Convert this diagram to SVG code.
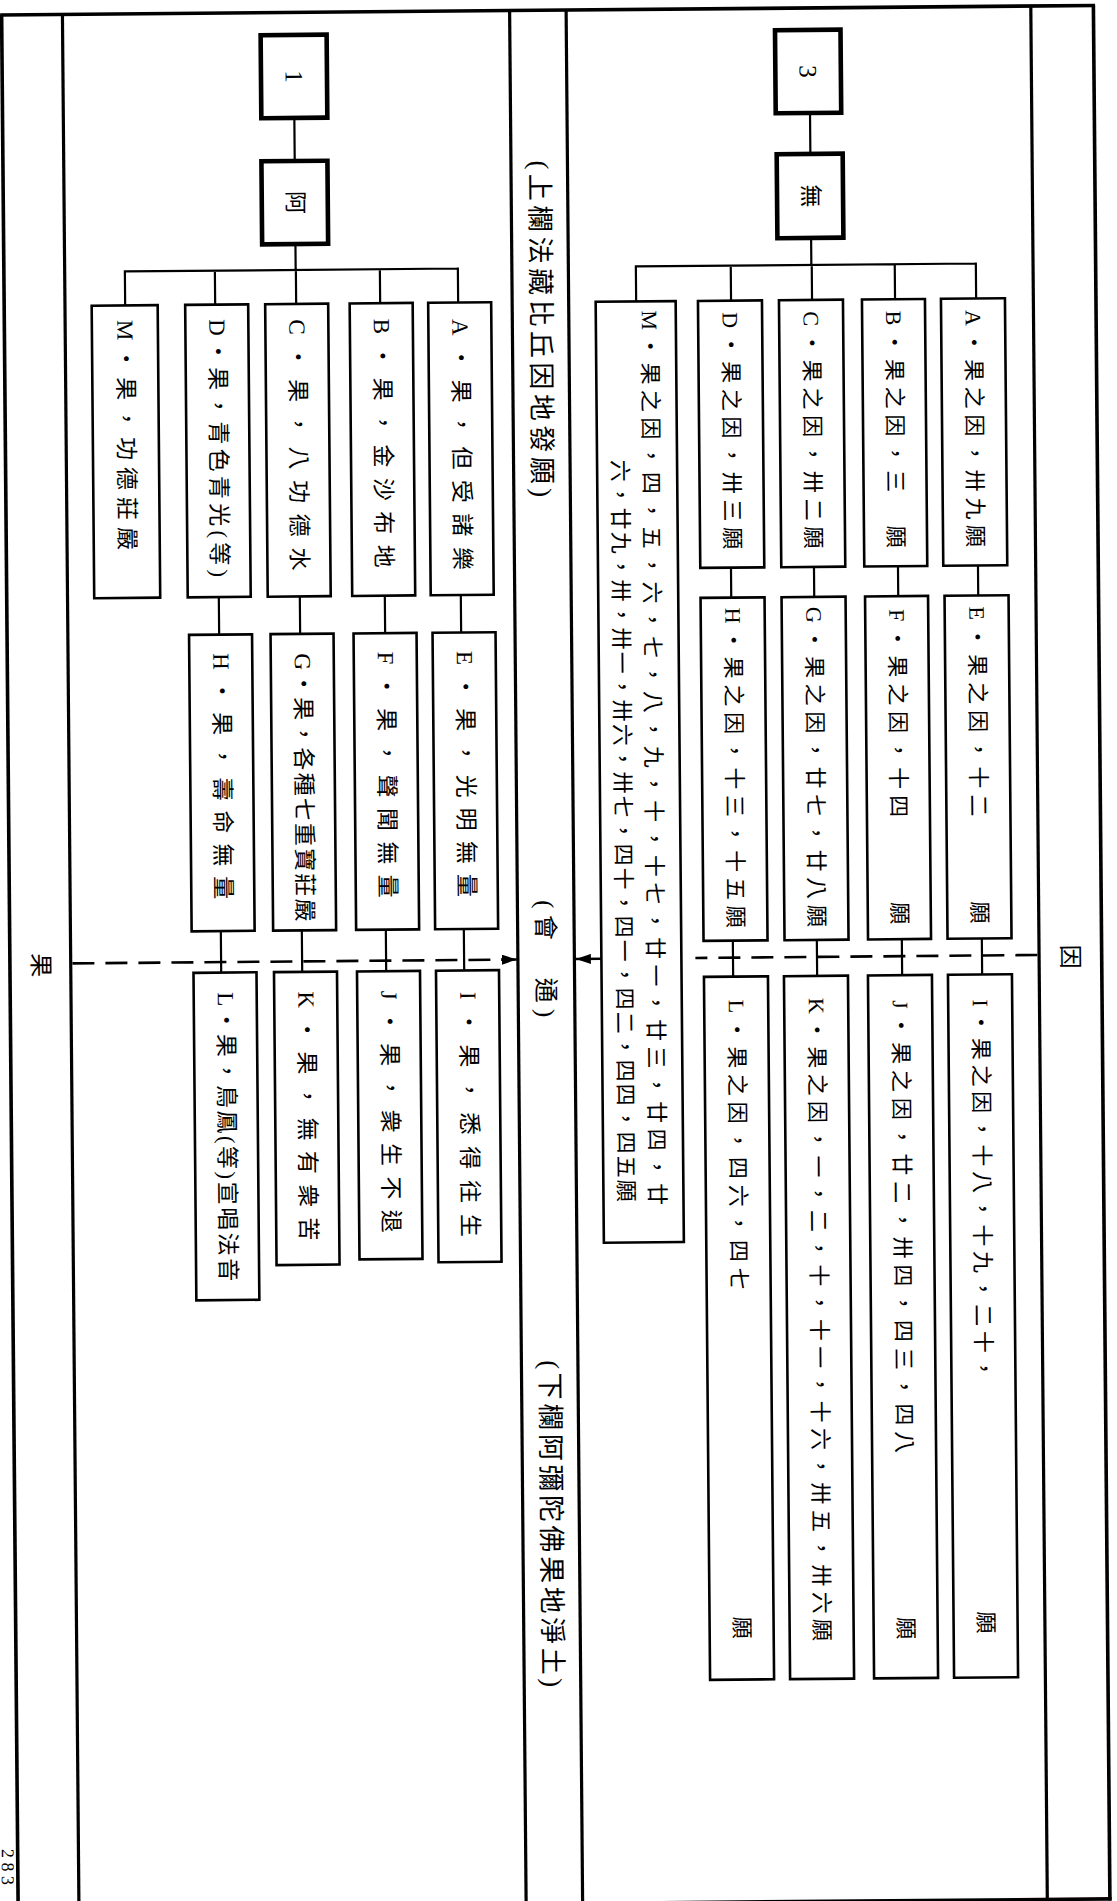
<svg xmlns="http://www.w3.org/2000/svg" width="1117" height="1901" viewBox="0 0 1117 1901">
<defs>
<style>
.fr{stroke:#000;stroke-width:3.6;fill:none}
.cl{stroke:#000;stroke-width:3.2;fill:none}
.bx{fill:#fff;stroke:#000;stroke-width:2.6}
.bb{fill:#fff;stroke:#000;stroke-width:4.6}
.cn{stroke:#000;stroke-width:2.2;fill:none}
.ds{stroke:#000;stroke-width:2.6;fill:none;stroke-dasharray:22 11}
.ar{stroke:#000;stroke-width:2.6;fill:none}
text{font-family:"Liberation Serif","Noto Sans CJK TC",serif;fill:#000}
.t{font-size:23px}
.r{font-size:22px}
.h{font-size:27px}
.lb{font-size:24px}
</style>
<marker id="ah" viewBox="0 0 15 10" refX="15" refY="5" markerWidth="15" markerHeight="10" markerUnits="userSpaceOnUse" orient="auto"><path d="M0,0 L15,5 L0,10 Z" fill="#000"/></marker>
</defs>
<rect x="0" y="0" width="1117" height="1901" fill="#fff"/>
<g transform="rotate(-0.5)">
<g id="frame">
<path class="fr" d="M0,15 H1095"/>
<path class="fr" d="M0,1908.5 H1095"/>
<path class="fr" d="M1.5,15 V1910"/>
<path class="fr" d="M1093.3,15 V1910"/>
<path class="cl" d="M62.3,15 V1910"/>
<path class="cl" d="M509.5,15 V1910"/>
<path class="cl" d="M566,15 V1910"/>
<path class="cl" d="M1030.7,15 V1910"/>
</g>
<g id="connectors">
<path class="cn" d="M293.3,120.5 V163.6 M293.3,246.6 V272.5 M122.5,272.5 H455.5 M122.5,271.4 V306.5 M212.5,272.5 V306.5 M293.5,272.5 V306.5 M377.5,272.5 V306.5 M455.5,271.4 V306.5"/>
<path class="cn" d="M213.6,599 V636.5 M294.6,599 V636.5 M379.6,599 V636.5 M455.6,599 V636.5"/>
<path class="cn" d="M212.7,933 V974.5 M293.7,933 V974.5 M377.7,933 V974.5 M455.7,933 V974.5"/>
<path class="cn" d="M809,120 V161 M809,245 V272 M633.5,272 H973.5 M633.5,270.9 V307 M728.4,272 V307 M809.4,272 V307 M892.4,272 V307 M973.5,270.9 V307"/>
<path class="cn" d="M726,574 V604 M809,574 V604 M893,574 V604 M973,574 V604"/>
<path class="cn" d="M724.6,947 V983 M808.6,947 V983 M893.6,947 V983 M973.6,947 V983"/>
<path class="ds" d="M64,964 H494"/>
<path class="ar" d="M493,964 H508.5" marker-end="url(#ah)"/>
<path class="ds" d="M1029,964 H687"/>
<path class="ar" d="M593,964 H567.5" marker-end="url(#ah)"/>
</g>
<g id="labels">
<text class="lb" transform="translate(32,965.4) rotate(90)" text-anchor="middle" dominant-baseline="central">果</text>
<text class="lb" transform="translate(1061.5,966) rotate(90)" text-anchor="middle" dominant-baseline="central">因</text>
<text class="h" transform="translate(537.5,165) rotate(90)" dominant-baseline="central" textLength="337" lengthAdjust="spacing">(上欄法藏比丘因地發願)</text>
<text style="font-size:25px" transform="translate(537,905) rotate(90)" dominant-baseline="central" textLength="117" lengthAdjust="spacing">(會　通)</text>
<text class="h" transform="translate(537.5,1365) rotate(90)" dominant-baseline="central" textLength="327" lengthAdjust="spacing">(下欄阿彌陀佛果地淨土)</text>
<text style="font-size:18px" transform="translate(-14.5,1849) rotate(90)" textLength="36" lengthAdjust="spacing">283</text>
</g>
<g id="n-1"><rect class="bb" x="260.3" y="37.5" width="66" height="83"/><text style="font-size:25px" transform="translate(293.3,79) rotate(90)" text-anchor="middle" dominant-baseline="central">1</text></g>
<g id="n-a"><rect class="bb" x="260" y="163.6" width="66" height="83"/><text class="t" transform="translate(293,205) rotate(90)" text-anchor="middle" dominant-baseline="central">阿</text></g>
<g id="n-3"><rect class="bb" x="774.7" y="37" width="65.5" height="83"/><text style="font-size:25px" transform="translate(807.5,78.5) rotate(90)" text-anchor="middle" dominant-baseline="central">3</text></g>
<g id="n-wu"><rect class="bb" x="775.3" y="161" width="66" height="84"/><text class="t" transform="translate(808.3,203) rotate(90)" text-anchor="middle" dominant-baseline="central">無</text></g>
<g id="f-M"><rect class="bx" x="89" y="306.5" width="66" height="292.5"/><text class="t" transform="translate(122,321) rotate(90)" dominant-baseline="central" textLength="230" lengthAdjust="spacing">M・果，功德莊嚴</text></g>
<g id="f-D"><rect class="bx" x="182.5" y="306.5" width="63" height="292.5"/><text class="t" transform="translate(214,321) rotate(90)" dominant-baseline="central" textLength="258" lengthAdjust="spacing">D・果，青色青光(等)</text></g>
<g id="f-C"><rect class="bx" x="262.5" y="306.5" width="63" height="292.5"/><text class="t" transform="translate(294,322) rotate(90)" dominant-baseline="central" textLength="251" lengthAdjust="spacing">C・果，八功德水</text></g>
<g id="f-B"><rect class="bx" x="347" y="306.5" width="63" height="292.5"/><text class="t" transform="translate(378.5,322) rotate(90)" dominant-baseline="central" textLength="249" lengthAdjust="spacing">B・果，金沙布地</text></g>
<g id="f-A"><rect class="bx" x="425.5" y="306.5" width="63" height="292.5"/><text class="t" transform="translate(457,323) rotate(90)" dominant-baseline="central" textLength="251" lengthAdjust="spacing">A・果，但受諸樂</text></g>
<g id="f-H"><rect class="bx" x="183.5" y="636.5" width="63" height="296.5"/><text class="t" transform="translate(215,655) rotate(90)" dominant-baseline="central" textLength="246" lengthAdjust="spacing">H・果，壽命無量</text></g>
<g id="f-G"><rect class="bx" x="265" y="636.5" width="63" height="296.5"/><text class="t" transform="translate(296.5,656) rotate(90)" dominant-baseline="central" textLength="268" lengthAdjust="spacing">G・果，各種七重寶莊嚴</text></g>
<g id="f-F"><rect class="bx" x="348" y="636.5" width="63" height="296.5"/><text class="t" transform="translate(379.5,655) rotate(90)" dominant-baseline="central" textLength="246" lengthAdjust="spacing">F・果，聲聞無量</text></g>
<g id="f-E"><rect class="bx" x="427" y="636.5" width="63" height="296.5"/><text class="t" transform="translate(458.5,655) rotate(90)" dominant-baseline="central" textLength="246" lengthAdjust="spacing">E・果，光明無量</text></g>
<g id="f-L"><rect class="bx" x="185" y="974.5" width="63" height="327.5"/><text class="t" transform="translate(216.5,994) rotate(90)" dominant-baseline="central" textLength="289" lengthAdjust="spacing">L・果，鳥鳳(等)宣唱法音</text></g>
<g id="f-K"><rect class="bx" x="265.5" y="974.5" width="63" height="293"/><text class="t" transform="translate(297,994) rotate(90)" dominant-baseline="central" textLength="249" lengthAdjust="spacing">K・果，無有衆苦</text></g>
<g id="f-J"><rect class="bx" x="348.5" y="974.5" width="63" height="288"/><text class="t" transform="translate(380,994) rotate(90)" dominant-baseline="central" textLength="242" lengthAdjust="spacing">J・果，衆生不退</text></g>
<g id="f-I"><rect class="bx" x="427.5" y="974.5" width="63" height="291.5"/><text class="t" transform="translate(459,996) rotate(90)" dominant-baseline="central" textLength="245" lengthAdjust="spacing">I・果，悉得往生</text></g>
<g id="c-M"><rect class="bx" x="593" y="307" width="80" height="941"/><text class="r" transform="translate(646.5,316) rotate(90)" dominant-baseline="central" textLength="895" lengthAdjust="spacing">M・果之因，四，五，六，七，八，九，十，十七，廿一，廿三，廿四，廿</text><text class="r" transform="translate(615.5,465) rotate(90)" dominant-baseline="central" textLength="742" lengthAdjust="spacing">六，廿九，卅，卅一，卅六，卅七，四十，四一，四二，四四，四五願</text></g>
<g id="c-D"><rect class="bx" x="695.3" y="307" width="64" height="267"/><text class="r" transform="translate(727.3,318.5) rotate(90)" dominant-baseline="central" textLength="237" lengthAdjust="spacing">D・果之因，卅三願</text></g>
<g id="c-C"><rect class="bx" x="776.3" y="307" width="64" height="267"/><text class="r" transform="translate(808.3,318.5) rotate(90)" dominant-baseline="central" textLength="237" lengthAdjust="spacing">C・果之因，卅二願</text></g>
<g id="c-B"><rect class="bx" x="859.3" y="307" width="63" height="267"/><text class="r" transform="translate(890.8,318.5) rotate(90)" dominant-baseline="central" textLength="237" lengthAdjust="spacing">B・果之因，三　願</text></g>
<g id="c-A"><rect class="bx" x="938.3" y="307" width="64" height="267"/><text class="r" transform="translate(970.3,318.5) rotate(90)" dominant-baseline="central" textLength="237" lengthAdjust="spacing">A・果之因，卅九願</text></g>
<g id="c-H"><rect class="bx" x="695.3" y="604" width="64" height="343"/><text class="r" transform="translate(727.3,614) rotate(90)" dominant-baseline="central" textLength="320" lengthAdjust="spacing">H・果之因，十三，十五願</text></g>
<g id="c-G"><rect class="bx" x="776.3" y="604" width="64" height="343"/><text class="r" transform="translate(808.3,614) rotate(90)" dominant-baseline="central" textLength="320" lengthAdjust="spacing">G・果之因，廿七，廿八願</text></g>
<g id="c-F"><rect class="bx" x="859.8" y="604" width="63" height="343"/><text class="r" transform="translate(891.3,617) rotate(90)" dominant-baseline="central" textLength="208" lengthAdjust="spacing">F・果之因，十四</text><text class="r" transform="translate(891.3,921) rotate(90)" text-anchor="middle" dominant-baseline="central">願</text></g>
<g id="c-E"><rect class="bx" x="939.3" y="604" width="64" height="343"/><text class="r" transform="translate(971.3,615) rotate(90)" dominant-baseline="central" textLength="210" lengthAdjust="spacing">E・果之因，十二</text><text class="r" transform="translate(971.3,921) rotate(90)" text-anchor="middle" dominant-baseline="central">願</text></g>
<g id="c-L"><rect class="bx" x="695.4" y="983" width="64" height="703"/><text class="r" transform="translate(727.4,1006) rotate(90)" dominant-baseline="central" textLength="290" lengthAdjust="spacing">L・果之因，四六，四七</text><text class="r" transform="translate(727.4,1634) rotate(90)" text-anchor="middle" dominant-baseline="central">願</text></g>
<g id="c-K"><rect class="bx" x="775.4" y="983" width="64" height="703"/><text class="r" transform="translate(807.4,1005) rotate(90)" dominant-baseline="central" textLength="643" lengthAdjust="spacing">K・果之因，一，二，十，十一，十六，卅五，卅六願</text></g>
<g id="c-J"><rect class="bx" x="859.4" y="983" width="64" height="703"/><text class="r" transform="translate(891.4,1008) rotate(90)" dominant-baseline="central" textLength="453" lengthAdjust="spacing">J・果之因，廿二，卅四，四三，四八</text><text class="r" transform="translate(891.4,1636) rotate(90)" text-anchor="middle" dominant-baseline="central">願</text></g>
<g id="c-I"><rect class="bx" x="939.4" y="983" width="64" height="703"/><text class="r" transform="translate(971.4,1008) rotate(90)" dominant-baseline="central" textLength="380" lengthAdjust="spacing">I・果之因，十八，十九，二十，</text><text class="r" transform="translate(971.4,1631) rotate(90)" text-anchor="middle" dominant-baseline="central">願</text></g>
</g>
</svg>
